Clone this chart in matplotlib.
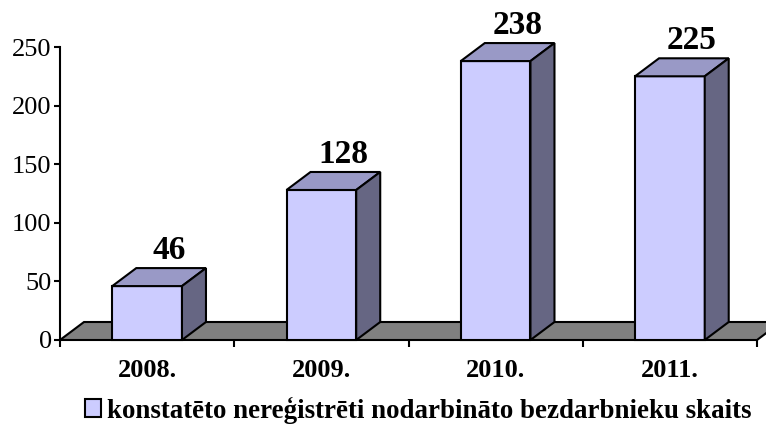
import matplotlib
matplotlib.use("Agg")
from matplotlib import pyplot as plt
from matplotlib.patches import Polygon, Patch
import numpy as np

plt.rcParams["font.family"] = ["Liberation Serif", "DejaVu Serif"]

years = ["2008.", "2009.", "2010.", "2011."]
counts = [46, 128, 238, 225]
legend_label = "konstatēto nereģistrēti nodarbināto bezdarbnieku skaits"

front_c = "#CCCCFF"
top_c = "#9999C6"
side_c = "#666683"
floor_c = "#808080"

fig = plt.figure(figsize=(7.66, 4.41), dpi=100)
ax = fig.add_axes([60 / 766, 1 - 340 / 441, 697 / 766, 293 / 441])
ax.set_xlim(0, len(years))
ax.set_ylim(0, 250)

# depth offsets for the pseudo 3d look (in data units)
dx = 24 / 174.25
dy = 18 / (293 / 250)
half = 0.2

floor = Polygon([(0, 0), (len(years), 0), (len(years) + dx, dy), (dx, dy)],
                closed=True, facecolor=floor_c, edgecolor="black", lw=1.5,
                clip_on=False, zorder=1)
ax.add_patch(floor)

for i, v in enumerate(counts):
    c = i + 0.5
    x0, x1 = c - half, c + half
    front = Polygon([(x0, 0), (x1, 0), (x1, v), (x0, v)], closed=True,
                    facecolor=front_c, edgecolor="black", lw=1.5, clip_on=False, zorder=3)
    top = Polygon([(x0, v), (x1, v), (x1 + dx, v + dy), (x0 + dx, v + dy)], closed=True,
                  facecolor=top_c, edgecolor="black", lw=1.5, clip_on=False, zorder=3)
    side = Polygon([(x1, 0), (x1 + dx, dy), (x1 + dx, v + dy), (x1, v)], closed=True,
                   facecolor=side_c, edgecolor="black", lw=1.5, clip_on=False, zorder=3)
    for p in (front, top, side):
        ax.add_patch(p)
    ax.text(c + 0.125, v + dy + 2, str(v), ha="center", va="bottom",
            fontsize=24, fontweight="bold", clip_on=False)

for s in ["top", "right"]:
    ax.spines[s].set_visible(False)
ax.spines["bottom"].set_visible(False)
ax.spines["left"].set_linewidth(1.5)

ax.set_yticks([0, 50, 100, 150, 200, 250])
ax.tick_params(axis="y", labelsize=19, length=4, width=1.5, pad=2)
ax.set_xticks(np.arange(len(years) + 1))
ax.set_xticklabels([])
ax.set_xticks(np.arange(len(years)) + 0.5, minor=True)
ax.set_xticklabels(years, minor=True, fontsize=19, fontweight="bold")
ax.tick_params(axis="x", which="major", length=5, width=1.5, direction="out")
ax.tick_params(axis="x", which="minor", length=0, pad=14)

fig.legend(handles=[Patch(facecolor=front_c, edgecolor="black", lw=1.5, label=legend_label)],
           loc="center", bbox_to_anchor=(418 / 766, 1 - 410 / 441), frameon=False,
           prop={"size": 19.4, "weight": "bold"}, handlelength=0.6, handleheight=0.6,
           handletextpad=0.2, borderaxespad=0)

fig.savefig("out.png", dpi=100)
